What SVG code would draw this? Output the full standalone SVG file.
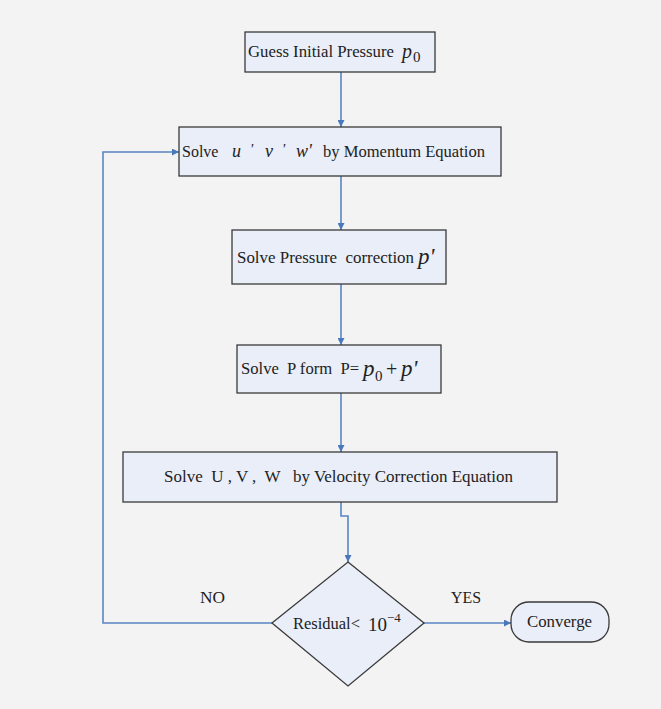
<svg xmlns="http://www.w3.org/2000/svg" width="661" height="709" viewBox="0 0 661 709">
<defs>
<style>
.box{fill:#e9eef8;stroke:#3a3a3a;stroke-width:1.3}
.t{font-family:"Liberation Serif","Times New Roman",serif;font-size:16px;fill:#222}
.m{font-family:"Liberation Serif","Times New Roman",serif;font-style:italic;fill:#222}
.n{font-family:"Liberation Serif","Times New Roman",serif;fill:#222}
.c{fill:none;stroke:#5a85c4;stroke-width:1.6}
</style>
<marker id="ah" viewBox="0 0 10 10" refX="10" refY="5" markerWidth="7" markerHeight="7" markerUnits="userSpaceOnUse" orient="auto">
<path d="M0,0 L10,5 L0,10 z" fill="#4a78bd"/>
</marker>
</defs>
<rect x="0" y="0" width="661" height="709" fill="#f3f3f3"/>
<g id="connectors">
<path class="c" d="M341,72 V127" marker-end="url(#ah)"/>
<path class="c" d="M341,176 V230" marker-end="url(#ah)"/>
<path class="c" d="M341,284 V345" marker-end="url(#ah)"/>
<path class="c" d="M341,393 V452" marker-end="url(#ah)"/>
<path class="c" d="M341,502 V516 H348 V562" marker-end="url(#ah)"/>
<path class="c" d="M424,623 H511" marker-end="url(#ah)"/>
<path class="c" d="M272,623 H103 V152 H179" marker-end="url(#ah)"/>
<text class="t" x="451" y="603" textLength="30" lengthAdjust="spacingAndGlyphs">YES</text>
<text class="t" x="200" y="603" textLength="25" lengthAdjust="spacingAndGlyphs">NO</text>
</g>
<g id="n1">
<rect class="box" x="245" y="32" width="190" height="40"/>
<text class="t" x="248" y="57" textLength="146" lengthAdjust="spacingAndGlyphs">Guess Initial Pressure</text>
<text class="m" x="402" y="58" font-size="20">p</text>
<text class="n" x="413" y="62" font-size="15">0</text>
</g>
<g id="n2">
<rect class="box" x="179" y="127" width="322" height="49"/>
<text class="t" x="182" y="157">Solve</text>
<text class="m" x="232" y="157" font-size="18">u</text>
<text class="m" x="250" y="154" font-size="15">'</text>
<text class="m" x="265" y="157" font-size="18">v</text>
<text class="m" x="282" y="154" font-size="15">'</text>
<text class="m" x="296" y="157" font-size="18">w'</text>
<text class="t" x="323" y="157" textLength="162" lengthAdjust="spacingAndGlyphs">by Momentum Equation</text>
</g>
<g id="n3">
<rect class="box" x="232" y="230" width="214" height="54"/>
<text class="t" x="237" y="263" xml:space="preserve" textLength="177" lengthAdjust="spacingAndGlyphs">Solve Pressure  correction</text>
<text class="m" x="418" y="264" font-size="23">p'</text>
</g>
<g id="n4">
<rect class="box" x="237" y="345" width="204" height="48"/>
<text class="t" x="241" y="374" xml:space="preserve" textLength="118" lengthAdjust="spacingAndGlyphs">Solve  P form  P=</text>
<text class="m" x="363" y="376" font-size="23">p</text>
<text class="n" x="375" y="381" font-size="15">0</text>
<text class="n" x="386" y="376" font-size="20">+</text>
<text class="m" x="401" y="376" font-size="23">p'</text>
</g>
<g id="n5">
<rect class="box" x="123" y="452" width="434" height="50"/>
<text class="t" x="164" y="482" xml:space="preserve" textLength="349" lengthAdjust="spacingAndGlyphs">Solve  U , V ,  W   by Velocity Correction Equation</text>
</g>
<g id="n6">
<polygon class="box" points="348,562 424,623 348,686 272,623"/>
<text class="t" x="293" y="629" textLength="67" lengthAdjust="spacingAndGlyphs">Residual&lt;</text>
<text class="n" x="368" y="631" font-size="19">10</text>
<text class="n" x="387" y="622" font-size="13">−4</text>
</g>
<g id="n7">
<rect class="box" x="511" y="602" width="98" height="40" rx="18" ry="18"/>
<text class="t" x="527" y="627" textLength="65" lengthAdjust="spacingAndGlyphs">Converge</text>
</g>
</svg>
